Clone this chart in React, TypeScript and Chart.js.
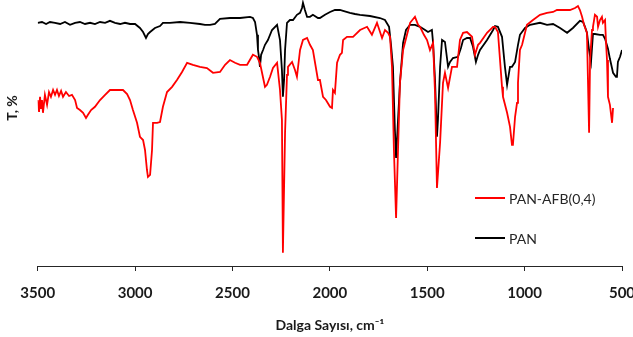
import React, { useEffect, useRef } from "react";
import { Chart, registerables } from "chart.js";

Chart.register(...registerables);

// PAN-AFB(0,4) spectrum (red)
const afbWavenumber = [3500, 3493, 3488, 3483, 3478, 3473, 3463, 3452, 3442, 3432, 3421, 3411, 3401, 3391, 3380, 3370, 3355, 3339, 3324, 3308, 3298, 3283, 3267, 3252, 3242, 3226, 3206, 3180, 3154, 3129, 3093, 3062, 3041, 3026, 3011, 2990, 2975, 2959, 2949, 2939, 2934, 2923, 2913, 2908, 2887, 2872, 2857, 2836, 2810, 2785, 2759, 2733, 2703, 2667, 2631, 2600, 2564, 2538, 2513, 2487, 2461, 2425, 2395, 2374, 2359, 2333, 2323, 2307, 2292, 2271, 2256, 2246, 2241, 2230, 2220, 2215, 2194, 2179, 2169, 2153, 2138, 2117, 2102, 2087, 2061, 2051, 2035, 2020, 1999, 1989, 1984, 1974, 1963, 1948, 1938, 1932, 1912, 1881, 1845, 1809, 1784, 1758, 1732, 1717, 1701, 1691, 1681, 1671, 1660, 1650, 1640, 1624, 1604, 1588, 1563, 1547, 1537, 1517, 1501, 1486, 1470, 1460, 1450, 1434, 1419, 1409, 1393, 1373, 1347, 1332, 1316, 1296, 1270, 1255, 1239, 1229, 1193, 1162, 1152, 1137, 1116, 1111, 1090, 1075, 1065, 1060, 1049, 1039, 1034, 1024, 1013, 988, 957, 921, 885, 854, 834, 803, 767, 741, 726, 716, 705, 695, 680, 669, 664, 654, 649, 639, 628, 623, 613, 603, 598, 587, 582, 577, 572, 562, 551, 546];
const afbT = [41.5, 38.5, 42.3, 39.5, 41.5, 38.3, 42.8, 40.3, 43.5, 42.3, 44, 42.8, 44, 42.5, 43.8, 42.3, 43.5, 42.5, 42.8, 41.5, 39.5, 39, 38.3, 37, 37.8, 39, 39.8, 41.5, 42.8, 44, 44, 44, 43, 41.5, 39, 35.8, 32.3, 31.5, 29, 24, 22.3, 22.8, 29, 35.8, 35.8, 36, 39.8, 43.5, 44.8, 46.5, 48.5, 50.8, 50.3, 49.8, 49.5, 48.3, 48.5, 50.3, 51.5, 50.8, 50.3, 50.3, 52.8, 52.3, 50.8, 44.8, 45.3, 47.3, 49.5, 50.8, 44, 36.5, 3.3, 33.3, 47.8, 49.8, 51, 49, 47.3, 54, 56.5, 57, 55.3, 54, 46.5, 46.5, 42.3, 41.5, 39.8, 39.5, 44, 43.3, 50.8, 52.8, 53.3, 56.5, 57.3, 57.3, 59, 59.8, 57.8, 60.8, 57, 59, 58.3, 57.3, 49.8, 29, 12, 29, 45.8, 54, 57.8, 60.8, 62.3, 60.3, 59.8, 57.8, 56.5, 54, 55.8, 43.3, 19.5, 30.8, 45.8, 48.3, 44.5, 49.8, 49.8, 56.5, 58.3, 58.5, 57.3, 52.8, 55.3, 55.8, 58.3, 59.8, 59.8, 58.5, 44.8, 42.3, 38.3, 34.8, 30.3, 30.3, 37.3, 40.8, 45.8, 54, 55.3, 60.3, 61.5, 62.8, 63.3, 63.5, 64, 64, 64, 64.5, 65, 64, 62.3, 60.3, 58.3, 33.3, 51.5, 59, 59.8, 62.8, 62.3, 59.8, 61.5, 62.3, 60.8, 61.5, 55.8, 51.5, 42.3, 40.3, 35.8, 39.5];

// PAN spectrum (black)
const panWavenumber = [3500, 3478, 3457, 3437, 3411, 3385, 3360, 3334, 3308, 3283, 3257, 3231, 3206, 3180, 3154, 3129, 3103, 3077, 3052, 3026, 3000, 2975, 2959, 2944, 2934, 2923, 2898, 2872, 2857, 2821, 2769, 2718, 2667, 2641, 2615, 2590, 2564, 2513, 2461, 2410, 2395, 2384, 2374, 2369, 2364, 2359, 2353, 2343, 2333, 2318, 2297, 2271, 2256, 2246, 2241, 2235, 2230, 2220, 2205, 2189, 2169, 2153, 2143, 2138, 2128, 2117, 2102, 2087, 2061, 2051, 2025, 1999, 1974, 1948, 1932, 1897, 1871, 1845, 1794, 1743, 1717, 1696, 1686, 1676, 1666, 1660, 1650, 1640, 1624, 1609, 1588, 1563, 1537, 1511, 1496, 1476, 1470, 1460, 1450, 1445, 1434, 1424, 1409, 1393, 1383, 1368, 1342, 1327, 1316, 1296, 1280, 1265, 1250, 1239, 1229, 1193, 1162, 1152, 1137, 1116, 1101, 1090, 1075, 1065, 1049, 1034, 1024, 998, 972, 921, 885, 854, 818, 803, 782, 752, 716, 700, 690, 680, 669, 659, 649, 639, 613, 598, 587, 572, 562, 546, 531, 526, 521, 510, 500];
const panT = [60.8, 61, 60.5, 61, 60.8, 60.5, 61, 60.3, 60.8, 61, 60.5, 60.8, 60.5, 61, 60.8, 61.3, 60.8, 60.5, 60.8, 60.5, 60.5, 59.5, 58.5, 57, 58, 58.5, 59.5, 60, 60.8, 60.8, 61, 60.8, 60.5, 60.3, 60.3, 60.5, 61.8, 62, 62, 62.3, 62, 61, 57.8, 54, 52.3, 49.8, 52.8, 54, 55.3, 56.5, 59, 60.3, 56.5, 49, 42.3, 46.5, 54, 60.8, 61.5, 61.5, 62.8, 63.3, 64.5, 65.8, 64, 62.3, 62.3, 62.8, 62, 62, 62.8, 63.5, 64, 64, 63.8, 63.3, 63, 62.8, 62.5, 62, 61.5, 59.8, 55.3, 49.8, 34, 27, 36.5, 45.8, 55.8, 59, 60.3, 60.3, 59.8, 59, 58.5, 59, 55.8, 46.5, 32.3, 36.5, 49.8, 56.5, 56, 49.8, 51, 52, 52.3, 54.5, 56.5, 57, 57, 54.8, 51, 52.8, 54, 56.5, 59, 60, 59.8, 57.3, 49.8, 45.3, 49.8, 49.8, 51, 55.3, 57.8, 59.5, 60.3, 60.8, 60.3, 60.5, 59.5, 59, 58.3, 59.5, 61.3, 61, 59.8, 58.3, 54, 51, 58, 58, 57.8, 57.8, 56.8, 54.3, 51.8, 48.3, 47.3, 47.3, 51, 52.3, 54];

const xTicks = [3500, 3000, 2500, 2000, 1500, 1000, 500];
const seriesLabels = ["PAN-AFB(0,4)", "PAN"];
const seriesColors = ["#ff0000", "#000000"];
const xTitle = "Dalga Sayısı, cm⁻¹";
const yTitle = "T, %";

const overlayPlugin = {
  id: "overlay",
  afterDraw(chart: any) {
    const ctx = chart.ctx;
    ctx.save();
    // y-axis title
    ctx.translate(12.5, 108);
    ctx.rotate(-Math.PI / 2);
    ctx.font = "bold 14px Lato";
    ctx.fillStyle = "#1a1a1a";
    ctx.textAlign = "center";
    ctx.textBaseline = "middle";
    ctx.fillText(yTitle, 0, 0);
    ctx.restore();

    // legend
    ctx.save();
    chart.data.datasets.forEach((ds: any, i: number) => {
      const y = 198 + i * 40;
      ctx.strokeStyle = ds.borderColor;
      ctx.lineWidth = 2;
      ctx.beginPath();
      ctx.moveTo(475, y);
      ctx.lineTo(505, y);
      ctx.stroke();
      ctx.font = "14px Lato";
      ctx.fillStyle = "#262626";
      ctx.textAlign = "left";
      ctx.textBaseline = "middle";
      ctx.fillText(ds.label, 509, y + 1);
    });
    ctx.restore();
  },
};

export default function App() {
  const ref = useRef<HTMLCanvasElement | null>(null);
  useEffect(() => {
    if (!ref.current) return;
    const mk = (xs: number[], ys: number[]) => xs.map((x, i) => ({ x, y: ys[i] }));
    const chart = new Chart(ref.current, {
      type: "line",
      data: {
        datasets: [
          {
            label: seriesLabels[0],
            data: mk(afbWavenumber, afbT),
            borderColor: seriesColors[0],
            borderWidth: 1.8,
            pointRadius: 0,
            tension: 0,
          },
          {
            label: seriesLabels[1],
            data: mk(panWavenumber, panT),
            borderColor: seriesColors[1],
            borderWidth: 1.8,
            pointRadius: 0,
            tension: 0,
          },
        ],
      },
      options: {
        animation: false,
        responsive: false,
        devicePixelRatio: 1,
        layout: { padding: { left: 37.7, right: 11, top: 0, bottom: 0 } },
        plugins: { legend: { display: false }, tooltip: { enabled: false } },
        scales: {
          x: {
            type: "linear",
            reverse: true,
            min: 500,
            max: 3500,
            afterBuildTicks: (scale: any) => {
              scale.ticks = xTicks.map((v) => ({ value: v }));
            },
            afterFit: (scale: any) => {
              scale.paddingLeft = 0;
              scale.paddingRight = 0;
              scale.height = 71;
            },
            grid: { drawOnChartArea: false, drawTicks: true, tickLength: 5, color: "#262626", lineWidth: 1 },
            border: { display: true, color: "#262626", width: 1 },
            ticks: {
              color: "#1a1a1a",
              font: { family: "Lato", size: 15, weight: "bold" },
              padding: 13,
              maxRotation: 0,
              autoSkip: false,
              callback: (v: any) => String(v),
            },
            title: {
              display: true,
              text: xTitle,
              color: "#1a1a1a",
              font: { family: "Lato", size: 14, weight: "bold" },
              padding: { top: 0, bottom: 3 },
            },
          },
          y: {
            display: false,
            min: 0,
            max: 66.5,
          },
        },
      },
      plugins: [overlayPlugin],
    } as any);
    return () => chart.destroy();
  }, []);
  return (
    <div style={{ position: "fixed", left: 0, top: 0, width: 633, height: 337, background: "#fff", overflow: "hidden" }}>
      <canvas ref={ref} width={633} height={337} style={{ width: 633, height: 337, display: "block" }} />
    </div>
  );
}
